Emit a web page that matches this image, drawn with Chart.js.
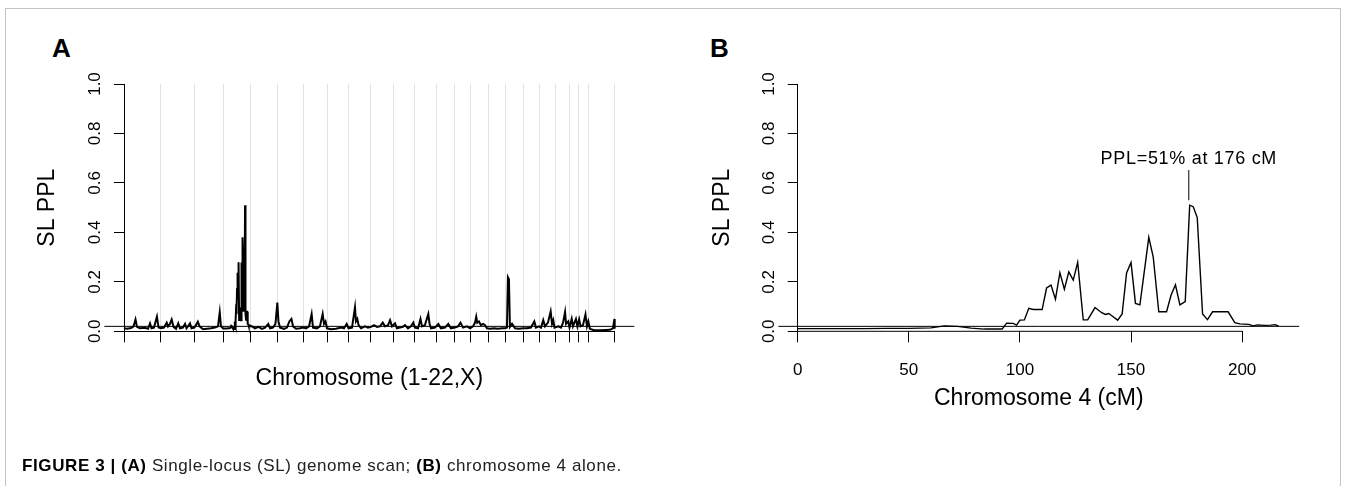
<!DOCTYPE html>
<html>
<head>
<meta charset="utf-8">
<script src="https://cdn.jsdelivr.net/npm/chart.js@4.4.1/dist/chart.umd.min.js"></script>
<style>
  html, body { margin: 0; padding: 0; background: #fff; }
  body { width: 1349px; height: 486px; position: relative; overflow: hidden; font-family: "Liberation Sans", Arial, sans-serif; }
  canvas { position: absolute; left: 0; top: 0; }
  .frame { position: absolute; left: 5px; top: 8px; width: 1334px; height: 500px; border: 1px solid #c4c4c4; }
  .panel { position: absolute; top: 35px; font-weight: bold; font-size: 26px; line-height: 26px; color: #000; }
  .caption { position: absolute; left: 22px; top: 457px; font-size: 17px; line-height: 17px; letter-spacing: 0.6px; color: #222; white-space: nowrap; }
  .caption b { color: #000; }
</style>
</head>
<body>
<div class="frame"></div>
<div class="panel" style="left:52px">A</div>
<div class="panel" style="left:710px">B</div>
<canvas id="chartA" width="1349" height="486"></canvas>
<canvas id="chartB" width="1349" height="486"></canvas>
<div class="caption"><b>FIGURE 3 | (A)</b> Single-locus (SL) genome scan; <b>(B)</b> chromosome 4 alone.</div>

<script>
// chromosome lengths in cM, 1-22 then X
const chromLengths = [295, 273, 233, 217, 223, 206, 195, 173, 178, 181, 170, 178, 145, 128, 145, 139, 144, 134, 123, 114, 75, 84, 209];
const yTicks = [0, 0.2, 0.4, 0.6, 0.8, 1.0];
const xTicksB = [0, 50, 100, 150, 200];
const priorPPL = 0.02;

// chromosome 4 alone (panel B): position in cM, PPL
const chr4Pos = [0, 10, 20, 30, 40, 50, 60, 63, 66, 72,
  78, 84, 92, 94, 97, 98.5, 100, 102, 104, 106,
  110, 112, 114, 116, 118, 120, 122, 124, 126, 128.5,
  130.5, 133.8, 136.8, 138.5, 140, 141.5, 144, 146, 148, 150,
  152, 154, 158, 160, 162.5, 166, 168, 170, 172, 174.4,
  176.4, 178, 179.8, 182.2, 184.4, 186.7, 193.7, 196.7, 199, 203,
  205, 207, 210, 213, 215, 216.5];
const chr4PPL = [0.011, 0.011, 0.011, 0.011, 0.012, 0.012, 0.014, 0.018, 0.022, 0.02,
  0.013, 0.009, 0.009, 0.033, 0.032, 0.025, 0.045, 0.046, 0.093, 0.088,
  0.088, 0.175, 0.187, 0.13, 0.237, 0.17, 0.24, 0.207, 0.279, 0.046,
  0.046, 0.096, 0.075, 0.068, 0.072, 0.062, 0.045, 0.07, 0.236, 0.278,
  0.113, 0.107, 0.38, 0.3, 0.079, 0.079, 0.146, 0.188, 0.107, 0.12,
  0.51, 0.504, 0.46, 0.07, 0.047, 0.079, 0.079, 0.035, 0.03, 0.028,
  0.022, 0.026, 0.024, 0.025, 0.027, 0.02];

// genome scan (panel A), cumulative cM, chromosomes 1-3
const scanPosBefore = [0, 24, 57, 77, 93, 105, 129, 170, 194, 210,
  222, 242, 266, 279, 299, 323, 345, 355, 371, 385,
  400, 420, 438, 452, 476, 493, 505, 533, 545, 568,
  581, 596, 610, 638, 670, 702, 735, 759, 773, 783];
const scanPPLBefore = [0.012, 0.01, 0.013, 0.02, 0.048, 0.018, 0.012, 0.014, 0.01, 0.032,
  0.012, 0.015, 0.059, 0.015, 0.012, 0.015, 0.035, 0.02, 0.03, 0.048,
  0.018, 0.01, 0.032, 0.012, 0.015, 0.03, 0.012, 0.032, 0.012, 0.015,
  0.025, 0.039, 0.02, 0.008, 0.01, 0.012, 0.015, 0.02, 0.077, 0.02];

// genome scan, cumulative cM, chromosomes 5-22 and X
const scanPosAfter = [1033, 1058, 1085, 1114, 1139, 1165, 1179, 1203, 1223, 1238,
  1247, 1260, 1292, 1316, 1335, 1352, 1365, 1389, 1421, 1445,
  1470, 1494, 1515, 1526, 1558, 1582, 1604, 1615, 1627, 1639,
  1671, 1712, 1752, 1776, 1798, 1813, 1841, 1865, 1873, 1884,
  1894, 1914, 1946, 1970, 1995, 2019, 2043, 2067, 2089, 2107,
  2132, 2148, 2164, 2188, 2204, 2228, 2252, 2269, 2293, 2317,
  2336, 2349, 2374, 2394, 2406, 2430, 2457, 2467, 2479, 2511,
  2538, 2559, 2592, 2618, 2640, 2672, 2697, 2717, 2737, 2769,
  2794, 2818, 2834, 2844, 2852, 2866, 2882, 2899, 2915, 2931,
  2955, 2987, 3020, 3052, 3076, 3092, 3100, 3108, 3116, 3133,
  3157, 3189, 3221, 3254, 3286, 3313, 3326, 3351, 3367, 3385,
  3399, 3423, 3445, 3456, 3466, 3476, 3507, 3528, 3545, 3561,
  3569, 3587, 3597, 3615, 3625, 3649, 3661, 3675, 3686, 3706,
  3726, 3738, 3749, 3762, 3795, 3843, 3892, 3924, 3948, 3960,
  3962];
const scanPPLAfter = [0.02, 0.012, 0.018, 0.01, 0.015, 0.03, 0.012, 0.015, 0.03, 0.116,
  0.04, 0.015, 0.01, 0.015, 0.04, 0.05, 0.02, 0.01, 0.012, 0.015,
  0.012, 0.02, 0.07, 0.015, 0.012, 0.02, 0.07, 0.03, 0.04, 0.012,
  0.008, 0.01, 0.015, 0.012, 0.03, 0.012, 0.015, 0.097, 0.04, 0.05,
  0.025, 0.012, 0.02, 0.015, 0.018, 0.025, 0.018, 0.02, 0.035, 0.02,
  0.025, 0.045, 0.02, 0.032, 0.012, 0.015, 0.018, 0.025, 0.012, 0.02,
  0.035, 0.015, 0.012, 0.05, 0.02, 0.025, 0.07, 0.03, 0.012, 0.015,
  0.03, 0.012, 0.015, 0.03, 0.012, 0.015, 0.02, 0.035, 0.015, 0.02,
  0.012, 0.02, 0.035, 0.059, 0.035, 0.04, 0.025, 0.03, 0.025, 0.012,
  0.01, 0.012, 0.01, 0.012, 0.012, 0.015, 0.218, 0.21, 0.018, 0.03,
  0.012, 0.01, 0.012, 0.012, 0.015, 0.04, 0.015, 0.02, 0.015, 0.045,
  0.02, 0.035, 0.08, 0.03, 0.045, 0.015, 0.02, 0.015, 0.035, 0.078,
  0.03, 0.04, 0.015, 0.05, 0.02, 0.05, 0.02, 0.048, 0.02, 0.025,
  0.068, 0.02, 0.04, 0.01, 0.004, 0.004, 0.005, 0.006, 0.012, 0.05,
  0.01];

// peak annotation on chromosome 4
const peakCM = 176;
const peakText = 'PPL=51% at 176 cM';
const peakLineFrom = 0.53, peakLineTo = 0.652, peakTextAt = 0.698;

Chart.defaults.font.family = '"Liberation Sans", Arial, sans-serif';
Chart.defaults.color = '#000';
const tickFont = { size: 17 };
const titleFont = { size: 23 };

// cumulative chromosome starts
const chromStarts = [];
let acc = 0;
chromLengths.forEach(function(len){ chromStarts.push(acc); acc += len; });
const genomeLength = acc;
const chr4Start = chromStarts[3];
const chr4Length = chromLengths[3];

function toPoints(xs, ys, shift) {
	return xs.map(function(x, i){ return { x: x + (shift || 0), y: ys[i] }; });
}

const genomeData = toPoints(scanPosBefore, scanPPLBefore)
	.concat(toPoints(chr4Pos, chr4PPL, chr4Start))
	.concat(toPoints(scanPosAfter, scanPPLAfter));

function lineSet(data, width) {
	return { data: data, borderColor: '#000', borderWidth: width, pointRadius: 0, tension: 0, clip: false };
}

function yAxis(width) {
	return {
		type: 'linear', min: 0, max: 1, bounds: 'data',
		afterBuildTicks: function(s){ s.ticks = yTicks.map(function(v){ return { value: v }; }); },
		afterFit: function(s){ s.width = width; },
		ticks: { minRotation: 90, maxRotation: 90, crossAlign: 'center', padding: 7, font: tickFont, color: '#000',
			callback: function(v){ return v.toFixed(1); } },
		grid: { drawOnChartArea: false, tickLength: 10, tickColor: '#000', tickWidth: 1 },
		border: { display: true, color: '#000', width: 1 },
		title: { display: true, text: 'SL PPL', font: titleFont, color: '#000', padding: 0 }
	};
}

const baseOptions = {
	responsive: false,
	animation: false,
	events: [],
	plugins: { legend: { display: false }, tooltip: { enabled: false } }
};

// Panel A: whole genome
new Chart(document.getElementById('chartA'), {
	type: 'line',
	data: {
		datasets: [
			lineSet([{ x: -0.04 * genomeLength, y: priorPPL }, { x: 1.04 * genomeLength, y: priorPPL }], 1),
			lineSet(genomeData, 2)
		]
	},
	options: Object.assign({}, baseOptions, {
		layout: { padding: { left: 34.2, top: 84, right: 734.3, bottom: 93.9 } },
		scales: {
			x: {
				type: 'linear', min: 0, max: genomeLength, bounds: 'data',
				afterBuildTicks: function(s){ s.ticks = chromStarts.concat([genomeLength]).map(function(v){ return { value: v }; }); },
				afterFit: function(s){ s.height = 60.8; },
				ticks: { autoSkip: false, maxRotation: 0, callback: function(){ return ''; } },
				grid: { drawOnChartArea: true, color: '#e2e2e2', lineWidth: 1, tickLength: 11, tickColor: '#000', tickWidth: 1 },
				border: { display: true, color: '#000', width: 1 },
				title: { display: true, text: 'Chromosome (1-22,X)', font: titleFont, color: '#000', padding: 0 }
			},
			y: yAxis(89.8)
		}
	})
});

// Panel B: chromosome 4
const peakLabel = {
	id: 'peakLabel',
	afterDatasetsDraw: function(chart) {
		const ctx = chart.ctx, x = chart.scales.x, y = chart.scales.y;
		ctx.save();
		ctx.font = '18px "Liberation Sans", Arial, sans-serif';
		ctx.letterSpacing = '0.7px';
		ctx.fillStyle = '#000';
		ctx.textAlign = 'center';
		ctx.textBaseline = 'middle';
		ctx.fillText(peakText, x.getPixelForValue(peakCM), y.getPixelForValue(peakTextAt));
		ctx.restore();
	}
};

new Chart(document.getElementById('chartB'), {
	type: 'line',
	data: {
		datasets: [
			lineSet([{ x: -0.04 * chr4Length, y: priorPPL }, { x: 1.04 * chr4Length, y: priorPPL }], 1),
			// x axis line, from first to last tick
			lineSet([{ x: xTicksB[0], y: 0 }, { x: xTicksB[xTicksB.length - 1], y: 0 }], 1),
			lineSet(toPoints(chr4Pos, chr4PPL), 1.4),
			lineSet([{ x: peakCM, y: peakLineFrom }, { x: peakCM, y: peakLineTo }], 1)
		]
	},
	options: Object.assign({}, baseOptions, {
		layout: { padding: { left: 708.6, top: 84, right: 69.1, bottom: 73.2 } },
		scales: {
			x: {
				type: 'linear', min: 0, max: chr4Length, bounds: 'data',
				afterBuildTicks: function(s){ s.ticks = xTicksB.map(function(v){ return { value: v }; }); },
				afterFit: function(s){ s.height = 81.5; },
				ticks: { autoSkip: false, maxRotation: 0, padding: 18, font: tickFont, color: '#000' },
				grid: { drawOnChartArea: false, tickLength: 11, tickColor: '#000', tickWidth: 1 },
				border: { display: false },
				title: { display: true, text: 'Chromosome 4 (cM)', font: titleFont, color: '#000', padding: 0 }
			},
			y: yAxis(89.1)
		}
	}),
	plugins: [peakLabel]
});
</script>
</body>
</html>
